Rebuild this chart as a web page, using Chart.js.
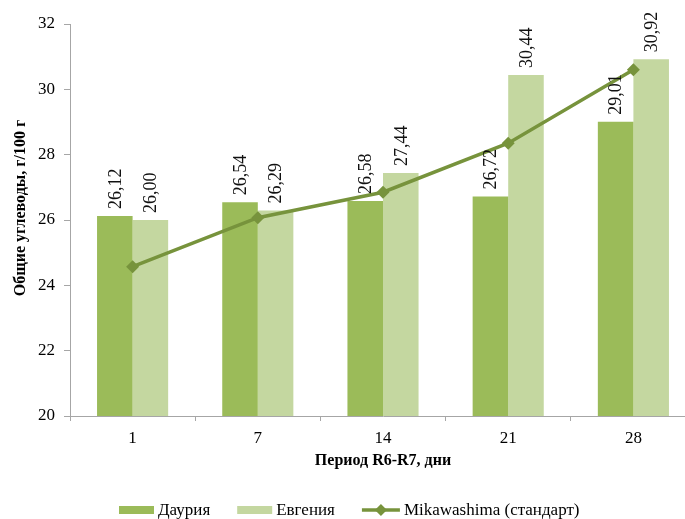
<!DOCTYPE html>
<html>
<head>
<meta charset="utf-8">
<script src="https://cdn.jsdelivr.net/npm/chart.js@4"></script>
<style>
  html, body { margin: 0; padding: 0; overflow: hidden; background: #fff; }
  #wrap { position: absolute; left: 0; top: 0; width: 720px; height: 560px; }
</style>
</head>
<body>
<div id="wrap"><canvas id="chart"></canvas></div>
<script>
// categories: period R6-R7, days
const days = ["1", "7", "14", "21", "28"];
// total carbohydrates, g/100 g
const dauria = [26.12, 26.54, 26.58, 26.72, 29.01];
const evgenia = [26.00, 26.29, 27.44, 30.44, 30.92];
const mikawashima = [24.57, 26.07, 26.85, 28.35, 30.60];
const yTicks = [20, 22, 24, 26, 28, 30, 32];
const yTitle = "Общие углеводы, г/100 г";

const serif = "'Liberation Serif', 'Times New Roman', serif";
const axisGray = "#a6a6a6";

// rotated value labels above bars
const barLabels = {
    id: "barLabels",
    afterDatasetsDraw(chart) {
        const ctx = chart.ctx;
        ctx.save();
        ctx.font = "18px " + serif;
        ctx.fillStyle = "#111";
        ctx.textAlign = "left";
        ctx.textBaseline = "middle";
        chart.data.datasets.forEach(function(ds, i) {
            if (ds.type === "line") return;
            chart.getDatasetMeta(i).data.forEach(function(bar, j) {
                ctx.save();
                ctx.translate(bar.x, bar.y - 7);
                ctx.rotate(-Math.PI / 2);
                ctx.fillText(ds.data[j].toFixed(2).replace(".", ","), 0, 1);
                ctx.restore();
            });
        });
        ctx.restore();
    }
};

// legend and y title drawn by hand so spacing matches
const extras = {
    id: "extras",
    afterDraw(chart) {
        const ctx = chart.ctx;
        ctx.save();
        ctx.font = "bold 16px " + serif;
        ctx.fillStyle = "#000";
        ctx.textAlign = "center";
        ctx.textBaseline = "middle";
        ctx.translate(21, 208);
        ctx.rotate(-Math.PI / 2);
        ctx.fillText(yTitle, 0, 0);
        ctx.restore();

        const order = [1, 2, 0];
        let x = 119;
        const y = 510;
        ctx.save();
        ctx.font = "17px " + serif;
        ctx.textBaseline = "middle";
        order.forEach(function(i) {
            const ds = chart.data.datasets[i];
            if (ds.type === "line") {
                ctx.strokeStyle = ds.borderColor;
                ctx.lineWidth = 3.5;
                ctx.beginPath();
                ctx.moveTo(x, y);
                ctx.lineTo(x + 38, y);
                ctx.stroke();
                ctx.fillStyle = ds.borderColor;
                ctx.beginPath();
                ctx.moveTo(x + 19, y - 6);
                ctx.lineTo(x + 25, y);
                ctx.lineTo(x + 19, y + 6);
                ctx.lineTo(x + 13, y);
                ctx.closePath();
                ctx.fill();
                x += 42;
            } else {
                ctx.fillStyle = ds.backgroundColor;
                ctx.fillRect(x, y - 4, 35, 8);
                x += 39;
            }
            ctx.fillStyle = "#000";
            ctx.fillText(ds.label, x, y + 1);
            x += ctx.measureText(ds.label).width + 27;
        });
        ctx.restore();
    }
};

new Chart(document.getElementById("chart"), {
    data: {
        labels: days,
        datasets: [
            {
                type: "line",
                label: "Mikawashima (стандарт)",
                data: mikawashima,
                borderColor: "#77933C",
                backgroundColor: "#77933C",
                borderWidth: 3.5,
                pointStyle: "rectRot",
                pointRadius: 6.5,
                pointHoverRadius: 6.5,
                pointBackgroundColor: "#77933C",
                pointBorderWidth: 0,
                tension: 0,
                order: 0
            },
            {
                type: "bar",
                label: "Даурия",
                data: dauria,
                backgroundColor: "#9BBB59",
                categoryPercentage: 0.568,
                barPercentage: 1,
                order: 1
            },
            {
                type: "bar",
                label: "Евгения",
                data: evgenia,
                backgroundColor: "#C4D7A0",
                categoryPercentage: 0.568,
                barPercentage: 1,
                order: 1
            }
        ]
    },
    options: {
        responsive: true,
        maintainAspectRatio: false,
        animation: false,
        layout: { padding: { top: 24, right: 24, bottom: 70, left: 0 } },
        plugins: {
            legend: { display: false },
            tooltip: { enabled: false }
        },
        scales: {
            x: {
                offset: true,
                grid: {
                    offset: true,
                    drawOnChartArea: false,
                    drawTicks: true,
                    tickLength: 5,
                    color: axisGray
                },
                border: { color: axisGray, width: 1 },
                ticks: {
                    color: "#000",
                    font: { family: serif, size: 17 },
                    padding: 7,
                    maxRotation: 0
                },
                title: {
                    display: true,
                    text: "Период R6-R7, дни",
                    color: "#000",
                    font: { family: serif, size: 16, weight: "bold" },
                    padding: { top: 0, bottom: 20 }
                },
                afterFit(scale) { scale.height = 74; }
            },
            y: {
                min: 20,
                max: 32,
                afterBuildTicks(scale) {
                    scale.ticks = yTicks.map(v => ({ value: v }));
                },
                grid: {
                    drawOnChartArea: false,
                    drawTicks: true,
                    tickLength: 6,
                    color: axisGray
                },
                border: { color: axisGray, width: 1 },
                ticks: {
                    color: "#000",
                    font: { family: serif, size: 17 },
                    padding: 9
                },
                afterFit(scale) { scale.width = 70; }
            }
        }
    },
    plugins: [barLabels, extras]
});
</script>
</body>
</html>
